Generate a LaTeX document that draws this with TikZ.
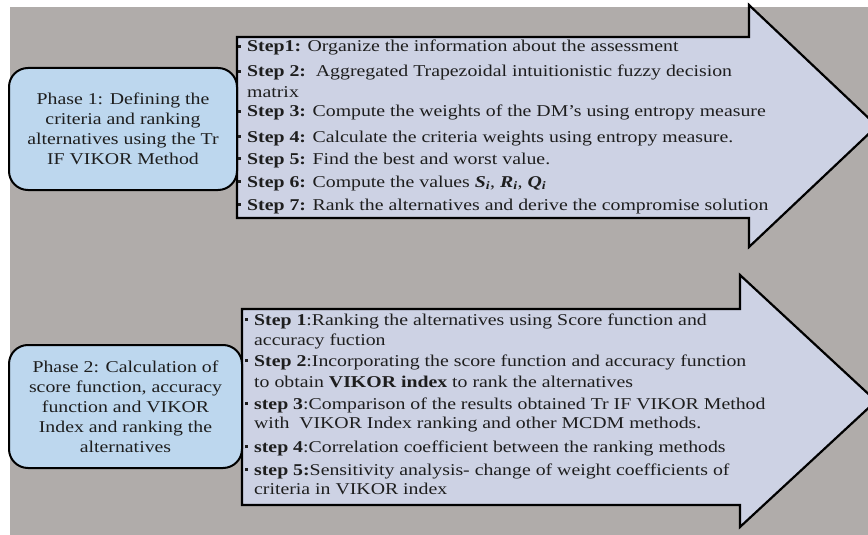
\documentclass[tikz,border=0pt]{standalone}
\usepackage{fontspec}
\setmainfont{Liberation Serif}[FakeStretch=1.2]
\definecolor{bggray}{RGB}{176,172,170}
\definecolor{arrowfill}{RGB}{205,210,228}
\definecolor{phasefill}{RGB}{189,215,238}
\definecolor{txt}{RGB}{30,30,30}
\newcommand{\stepf}{\fontsize{16.5}{20}\selectfont}
\newcommand{\bul}{\makebox[10pt][l]{\hspace{1pt}\raisebox{3.8pt}{\rule{3pt}{3pt}}}}
\tikzset{
  bigarrow/.style={fill=arrowfill, draw=black, line width=2.2pt, line join=miter},
  phasebox/.style={fill=phasefill, draw=black, line width=2pt, rounded corners=19pt,
    align=center, font=\stepf, text=txt, inner sep=0pt},
  ln/.style={anchor=base west, inner sep=0pt, font=\stepf, text=txt},
}
\begin{document}
\begin{tikzpicture}[x=1pt,y=-1pt]
\useasboundingbox (0,0) rectangle (868,535);
\clip (0,0) rectangle (868,535);
\fill[bggray] (10,7) rectangle (868,535);
% arrows
\draw[bigarrow] (237,37) -- (749,37) -- (749,5) -- (877,126) -- (749,247) -- (749,218) -- (237,218) -- cycle;
\draw[bigarrow] (242,309) -- (740,309) -- (740,275) -- (876,401) -- (740,527) -- (740,505) -- (242,505) -- cycle;
% phase boxes
\node[phasebox, minimum width=228pt, minimum height=122pt] (p1) at (123,129)
  {Phase 1: Defining the\\criteria and ranking\\alternatives using the Tr\\IF VIKOR Method};
\node[phasebox, minimum width=233pt, minimum height=123pt] (p2) at (125.5,406.5)
  {Phase 2: Calculation of\\score function, accuracy\\function and VIKOR\\Index and ranking the\\alternatives};
% top steps
\node[ln] (a1) at (237,52) {\bul\textbf{Step1:} Organize the information about the assessment};
\node[ln] (a2) at (237,77) {\bul\textbf{Step 2:}\ \ Aggregated Trapezoidal intuitionistic fuzzy decision};
\node[ln] (a2b) at (247,97) {matrix};
\node[ln] (a3) at (237,117) {\bul\textbf{Step 3:} Compute the weights of the DM’s using entropy measure};
\node[ln] (a4) at (237,142) {\bul\textbf{Step 4:} Calculate the criteria weights using entropy measure.};
\node[ln] (a5) at (237,164) {\bul\textbf{Step 5:} Find the best and worst value.};
\node[ln] (a6) at (237,187) {\bul\textbf{Step 6:} Compute the values \textbf{\textit{S\textsubscript{i}}}, \textbf{\textit{R\textsubscript{i}}}, \textbf{\textit{Q\textsubscript{i}}}};
\node[ln] (a7) at (237,210) {\bul\textbf{Step 7:} Rank the alternatives and derive the compromise solution};
% bottom steps
\node[ln] (b1) at (244,325) {\bul\textbf{Step 1}:Ranking the alternatives using Score function and};
\node[ln] (b1b) at (254,345) {accuracy fuction};
\node[ln] (b2) at (244,366) {\bul\textbf{Step 2}:Incorporating the score function and accuracy function};
\node[ln] (b2b) at (254,387) {to obtain \textbf{VIKOR index} to rank the alternatives};
\node[ln] (b3) at (244,409) {\bul\textbf{step 3}:Comparison of the results obtained Tr IF VIKOR Method};
\node[ln] (b3b) at (254,428) {with\ \ VIKOR Index ranking and other MCDM methods.};
\node[ln] (b4) at (244,452) {\bul\textbf{step 4}:Correlation coefficient between the ranking methods};
\node[ln] (b5) at (244,475) {\bul\textbf{step 5:}Sensitivity analysis- change of weight coefficients of};
\node[ln] (b5b) at (254,494) {criteria in VIKOR index};
\end{tikzpicture}
\end{document}
